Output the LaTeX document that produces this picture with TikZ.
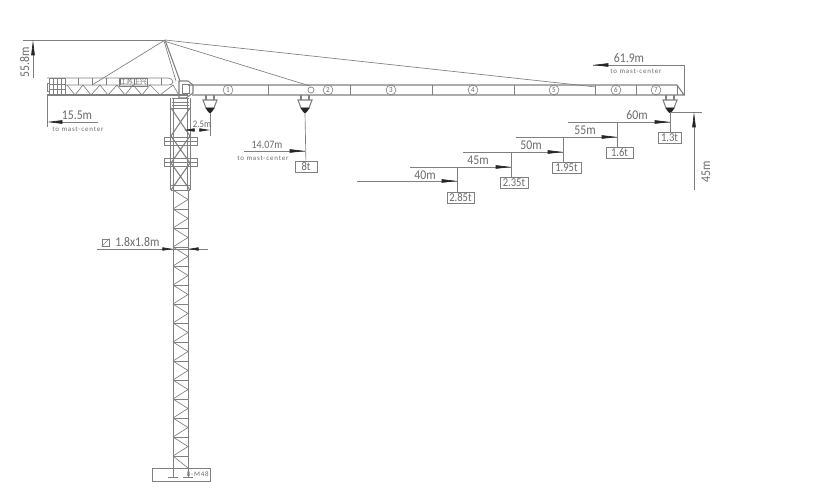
\documentclass[tikz,border=0pt]{standalone}
\usepackage{fontspec}
\setmainfont{Carlito}[FakeStretch=0.88]
\newfontfamily\smallfam{Carlito}[LetterSpace=12]
\newfontfamily\cjk{Noto Sans CJK SC}
\usetikzlibrary{arrows.meta}
\definecolor{cadline}{gray}{0.5}
\definecolor{cadtext}{gray}{0.42}
\definecolor{tipcol}{gray}{0.15}
\tikzset{
  x=0.75pt,y=-0.75pt,
  ln/.style={draw=cadline,line width=0.5pt},
  thk/.style={draw=cadline,line width=0.8pt},
  dimline/.style={draw=cadline,line width=0.5pt},
  arr/.style={draw=cadline,line width=0.5pt,-{Triangle[length=11.5pt,width=2.6pt,color=tipcol]}},
  arrs/.style={draw=cadline,line width=0.5pt,-{Triangle[length=8pt,width=2.4pt,color=tipcol]}},
  loadbox/.style={draw=cadline,line width=0.55pt,text=cadtext,font=\fontsize{9}{9}\selectfont,minimum width=#1*0.75pt,minimum height=8.2pt,inner sep=0pt},
  dimtxt/.style={text=cadtext,font=\fontsize{10}{10}\selectfont,inner sep=0pt},
  smalltxt/.style={text=cadtext,font=\smallfam\fontsize{5.2}{5}\selectfont,inner sep=0pt},
  segnum/.style={draw=cadline,circle,line width=0.45pt,minimum size=7.4pt,inner sep=0pt,text=cadtext,font=\fontsize{6}{6}\selectfont},
}
\begin{document}
\begin{tikzpicture}
\useasboundingbox (0,0) rectangle (820,502);
\fill[white] (0,0) rectangle (820,502);
% key points
\coordinate (apex) at (165,40);
\coordinate (foot) at (180,81);
\coordinate (tieA) at (596,87);
\coordinate (tieB) at (310,86);
\coordinate (tieC) at (92,85);
% jib
\draw[ln] (47,78) -- (168,78) to[out=0,in=90] (173,82) to[out=-90,in=0] (168,85) -- (65,85);
\draw[thk] (47,95) -- (188,95);
\draw[ln] (47,83) -- (47,91) -- (49,91) (47,83) -- (49,83);
\draw[ln] (49,78) rectangle (65,95);
\foreach \x in {53,57,61} \draw[ln] (\x,78) -- (\x,95);
\foreach \y in {84,89} \draw[ln] (49,\y) -- (65,\y);
\foreach \x in {78,92,106,120,134,147,161} \draw[ln] (\x,78) -- (\x,85);
\foreach \a/\b in {67/75,83/75,83/91,100/91,100/108,117/108,117/125,133/125,133/142,150/142,150/160,173/160,173/179}
  \draw[ln] (\a,85) -- (\b,95);
\draw[ln] (119,78) rectangle (147,86);
\node[inner sep=0pt,text=cadtext,font=\cjk\fontsize{5.2}{5}\selectfont] (brand) at (133,82) {江苏正兴};
% cab
\draw[thk] (179,81) -- (188,81) -- (193,85) -- (193,93) -- (186,98) -- (179,98) -- cycle;
\draw[ln] (182,84) -- (189,84) -- (189,93) -- (182,93) -- cycle;
% apex frame and ties
\draw[thk] (apex) -- (foot);
\draw[ln] (164,41) -- (176,81);
\draw[ln] (apex) -- (tieA);
\draw[ln] (165.5,41.5) -- (tieB);
\draw[ln] (apex) -- (tieC);
% boom
\draw[thk] (188,85) -- (677,85) -- (684,95) -- (192,95);
\draw[ln] (677,85) -- (677,95);
\foreach \x in {268,350,432,514,595,636} \draw[ln] (\x,85) -- (\x,95);
\node[segnum] (s1) at (228,90) {1};
\node[segnum] (s2) at (328,90) {2};
\node[segnum] (s3) at (391,90) {3};
\node[segnum] (s4) at (473,90) {4};
\node[segnum] (s5) at (554,90) {5};
\node[segnum] (s6) at (616,90) {6};
\node[segnum] (s7) at (656,90) {7};
% mast
\draw[ln] (173,190) -- (173,477) (188,190) -- (188,477);
\draw[ln] (170,98) -- (170,190) (173,98) -- (173,190) (187,98) -- (187,190) (190,98) -- (190,190);
\draw[ln] (172,98) -- (189,98) (172,102) -- (189,102) (172,105) -- (189,105) (171,108) -- (190,108);
\foreach \ya/\yb in {108/136,136/163,163/190}{
  \draw[thk] (171,\ya) -- (190,\yb) (190,\ya) -- (171,\yb);
}
\draw[ln] (171,185) -- (190,185) (171,190) -- (190,190);
\draw[ln] (164,137) rectangle (197,145);
\draw[ln] (164,158) rectangle (197,166);
\draw[ln] (164,141) -- (197,141) (164,162) -- (197,162);
\foreach \y in {190,209,...,455}{
  \draw[ln] (173,\y) -- (188,\y);
  \draw[ln] (173,\y) -- (188,\y+9.5) -- (173,\y+19);
}
\draw[ln] (173,456) -- (188,456);
\draw[ln] (173,456) -- (188,468);
% base
\node[draw=cadline,line width=0.55pt,minimum width=43.5pt,minimum height=9.75pt,inner sep=0pt,anchor=north west] (base) at (152,468) {};
\draw[ln] (168,477) -- (178,477) (183,477) -- (193,477);
\node[smalltxt,anchor=east] (boltlab) at (209,474) {8-M48};
% hooks
\foreach \n/\x in {ha/210,hb/305,hc/670}{
  \coordinate (\n) at (\x,113);
  \draw[thk] (\x-4,95) -- (\x-4,100) (\x+4,95) -- (\x+4,100);
  \draw[thk] (\x-7,100) -- (\x+7,100) -- (\x+4,108) -- (\x-4,108) -- cycle;
  \fill[tipcol] (\x-4.5,108) -- (\x+4.5,108) -- (\x+2.5,111) -- (\x+0.7,113) -- (\x-0.7,113) -- (\x-2.5,111) -- cycle;
}
\draw[ln] (311,90) circle (3);
% --- dimensions ---
% 55.8m
\coordinate (d558a) at (23,40);
\coordinate (d558b) at (33,40);
\coordinate (d558c) at (33,78);
\draw[dimline] (d558a) -- (apex);
\draw[arr] (d558c) -- (d558b);
\node[dimtxt,rotate=90] (t558) at (24.5,62) {55.8m};
% 15.5m
\coordinate (d155a) at (47,122);
\coordinate (d155b) at (98,122);
\coordinate (d155c) at (47,127);
\draw[dimline] (47,95) -- (d155c);
\draw[arr] (d155b) -- (d155a);
\node[dimtxt] (t155) at (77,115) {15.5m};
\node[smalltxt] (t155s) at (78,129) {to mast-center};
% 2.5m
\coordinate (d25l) at (184,130);
\coordinate (d25r) at (210,130);
\draw[dimline] (ha) -- (210,136);
\draw[arrs] (194,130) -- (d25l);
\draw[arrs] (199,130) -- (d25r);
\node[dimtxt,font=\fontsize{7.5}{7}\selectfont] (t25) at (202,124) {2.5m};
% 1.8x1.8
\coordinate (d18a) at (97,249);
\coordinate (d18b) at (208,249);
\draw[dimline] (d18a) -- (d18b);
\draw[arrs] (164,249) -- (173,249);
\draw[arrs] (197,249) -- (188,249);
\node[draw=cadline,line width=0.45pt,minimum size=5.2pt,inner sep=0pt] (sq) at (105.5,242.5) {};
\draw[ln] (sq.south west) -- (sq.north east);
\node[dimtxt,anchor=west] (t18) at (115,242) {1.8x1.8m};
% 8t
\node[loadbox=22] (l8) at (306,166.5) {8t};
\draw[dimline] (hb) -- (l8);
\coordinate (d14) at (244,151);
\coordinate (d14t) at (305,151);
\draw[dimline] (d14) -- (d14t);
\draw[arr] (289,151) -- (d14t);
\node[dimtxt,font=\fontsize{8.5}{8}\selectfont] (t14) at (267,145) {14.07m};
\node[smalltxt] (t14s) at (263,158) {to mast-center};
% 61.9
\coordinate (d61a) at (593,65);
\coordinate (d61b) at (684,65);
\draw[dimline] (d61a) -- (d61b) -- (684,95);
\draw[arr] (609,65) -- (d61a);
\node[dimtxt] (t61) at (629,58) {61.9m};
\node[smalltxt] (t61s) at (636,71) {to mast-center};
% 45m height
\coordinate (d45a) at (670,112);
\coordinate (d45b) at (702,112);
\coordinate (d45c) at (694,190);
\coordinate (d45d) at (694,112);
\draw[dimline] (d45a) -- (d45b);
\draw[arr] (d45c) -- (d45d);
\node[dimtxt,rotate=90] (t45) at (706,172) {45m};
% capacity steps
\node[loadbox=23] (l13) at (669.5,137.5) {1.3t};
\node[loadbox=27] (l16) at (619.5,152.5) {1.6t};
\node[loadbox=29] (l195) at (566.5,167.5) {1.95t};
\node[loadbox=28] (l235) at (514,182.5) {2.35t};
\node[loadbox=27] (l285) at (460.5,197.5) {2.85t};
\draw[dimline] (hc) -- (670,132);
% 60
\coordinate (p60a) at (568,122);
\coordinate (p60b) at (670,122);
\draw[dimline] (p60a) -- (p60b);
\draw[arr] (653,122) -- (p60b);
\node[dimtxt] (t60) at (637,115) {60m};
\draw[dimline] (617,122) -- (617,147);
% 55
\coordinate (p55a) at (516,137);
\coordinate (p55b) at (617,137);
\draw[dimline] (p55a) -- (p55b);
\draw[arr] (600,137) -- (p55b);
\node[dimtxt] (t55) at (585,130) {55m};
\draw[dimline] (563,137) -- (563,162);
% 50
\coordinate (p50a) at (463,152);
\coordinate (p50b) at (563,152);
\draw[dimline] (p50a) -- (p50b);
\draw[arr] (547,152) -- (p50b);
\node[dimtxt] (t50) at (531,145) {50m};
\draw[dimline] (511,152) -- (511,177);
% 45
\coordinate (p45a) at (410,167);
\coordinate (p45b) at (511,167);
\draw[dimline] (p45a) -- (p45b);
\draw[arr] (494,167) -- (p45b);
\node[dimtxt] (t45b) at (478,160) {45m};
\draw[dimline] (457,167) -- (457,192);
% 40
\coordinate (p40a) at (357,181);
\coordinate (p40b) at (457,181);
\draw[dimline] (p40a) -- (p40b);
\draw[arr] (441,181) -- (p40b);
\node[dimtxt] (t40) at (425,175) {40m};
\end{tikzpicture}
\end{document}
